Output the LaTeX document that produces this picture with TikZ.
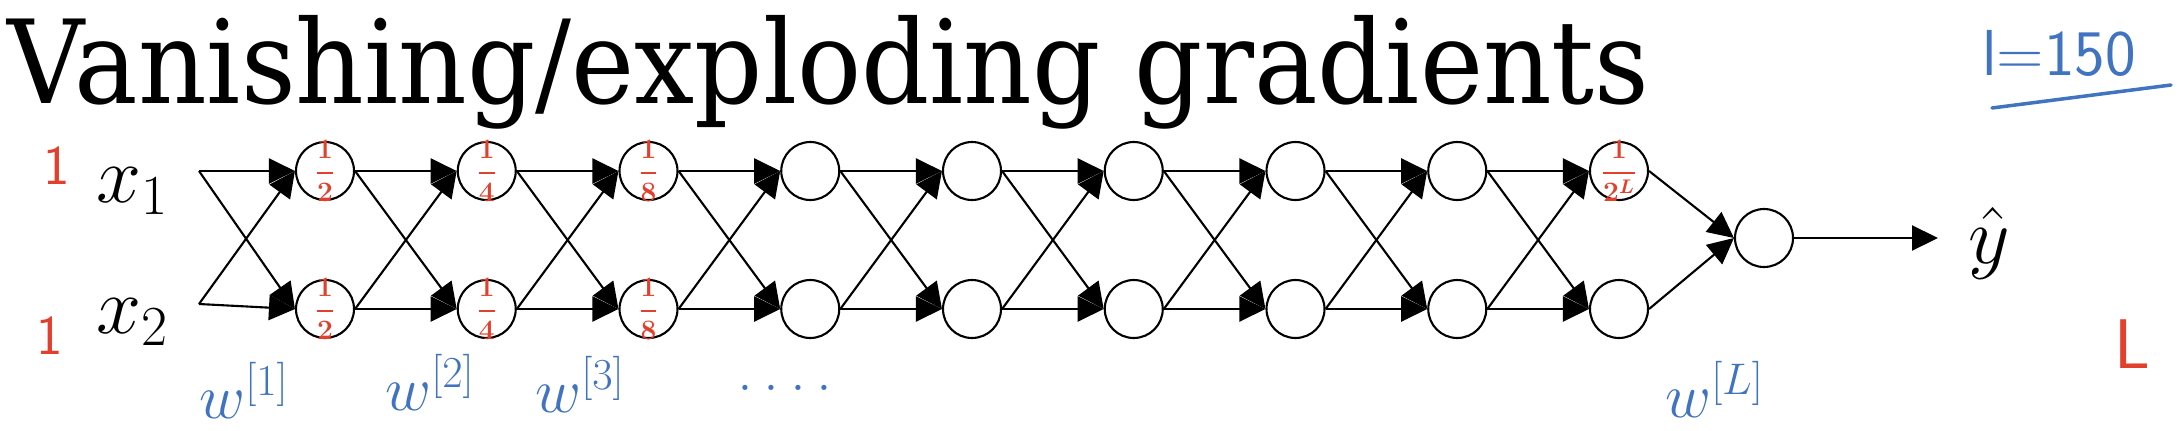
\RequirePackage{fix-cm}
\documentclass[tikz,border=0pt]{standalone}
\usepackage{fontspec}
\newfontfamily\titlefont{DejaVu Serif}
\usepackage{amsmath}
\usepackage{graphicx}
\usepackage{xcolor}
\usetikzlibrary{arrows.meta}
\usetikzlibrary{calc}

\definecolor{penblue}{RGB}{64,116,192}
\definecolor{penred}{RGB}{226,64,44}

\tikzset{
  unit/.style={circle, draw, line width=1.2pt, minimum size=1.16cm, inner sep=0pt},
  wire/.style={line width=1.2pt, -{Triangle[length=0.52cm,width=0.5cm]}},
  inkblue/.style={text=penblue, inner sep=0pt},
  inkred/.style={text=penred, inner sep=0pt},
  frac/.style={inkred, font=\boldmath\fontsize{16}{18}\selectfont},
}

\begin{document}
\begin{tikzpicture}[x=0.02cm, y=-0.02cm]
    % Keep the page the size of the slide
    \useasboundingbox (0,0) rectangle (2180,430);

    % Title
    \node[anchor=base west, inner sep=0pt, font=\titlefont\fontsize{66}{70}\selectfont] (title) at (7,103) {\scalebox{0.92}[1]{Vanishing/exploding gradients}};

    % Input points and their labels
    \coordinate (in1) at (199,171);
    \coordinate (in2) at (199,304);
    \node[anchor=base west, inner sep=0pt, font=\fontsize{46}{50}\selectfont] (lx1) at (96,202) {$x_1$};
    \node[anchor=base west, inner sep=0pt, font=\fontsize{46}{50}\selectfont] (lx2) at (96,333) {$x_2$};

    % Hidden units, two per layer
    \foreach \i in {1,...,9} {
        \node[unit] (t\i) at ({325+(\i-1)*161.75},171) {};
        \node[unit] (b\i) at ({325+(\i-1)*161.75},309) {};
    }
    \node[unit] (out) at (1764,238) {};

    % Connections
    \foreach \s in {in1,in2} {
        \draw[wire] (\s) -- (t1.west);
        \draw[wire] (\s) -- (b1.west);
    }
    \foreach \i [count=\j from 2] in {1,...,8} {
        \draw[wire] (t\i.east) -- (t\j.west);
        \draw[wire] (t\i.east) -- (b\j.west);
        \draw[wire] (b\i.east) -- (t\j.west);
        \draw[wire] (b\i.east) -- (b\j.west);
    }
    \draw[wire] (t9.east) -- (out.west);
    \draw[wire] (b9.east) -- (out.west);

    % Output
    \coordinate (yend) at (1938,238);
    \draw[wire] (out.east) -- (yend);
    \node[anchor=base west, inner sep=0pt, font=\fontsize{46}{50}\selectfont] (yhat) at (1968,263) {$\hat{y}$};

    % Red notes: activations
    \node[inkred, font=\sffamily\fontsize{32}{34}\selectfont] (one1) at (57,166) {1};
    \node[inkred, font=\sffamily\fontsize{32}{34}\selectfont] (one2) at (50,336) {1};
    \foreach \i/\d in {1/2,2/4,3/8} {
        \node[frac] (ft\i) at (t\i) {$\dfrac{1}{\d}$};
        \node[frac] (fb\i) at (b\i) {$\dfrac{1}{\d}$};
    }
    \node[frac] (ft9) at (t9) {$\dfrac{1}{2^L}$};
    \node[inkred, font=\sffamily\fontsize{40}{42}\selectfont] (lastL) at (2132,344) {L};

    % Blue notes: weights and depth
    \node[inkblue, anchor=base west, font=\fontsize{36}{38}\selectfont] (w1) at (199,418) {$w^{[1]}$};
    \node[inkblue, anchor=base west, font=\fontsize{36}{38}\selectfont] (w2) at (385,410) {$w^{[2]}$};
    \node[inkblue, anchor=base west, font=\fontsize{36}{38}\selectfont] (w3) at (535,412) {$w^{[3]}$};
    \node[inkblue, anchor=base, font=\fontsize{36}{38}\selectfont] (wdots) at (785,390) {.\,.\,.\,.};
    \node[inkblue, anchor=base west, font=\fontsize{36}{38}\selectfont] (wL) at (1665,417) {$w^{[L]}$};
    \node[inkblue, font=\sffamily\fontsize{37}{40}\selectfont] (depth) at (2059,53) {l=150};
    \coordinate (ul1) at (1992,108);
    \coordinate (ul2) at (2171,85);
    \draw[penblue, line width=2pt, line cap=round] (ul1) -- (ul2);
\end{tikzpicture}
\end{document}
